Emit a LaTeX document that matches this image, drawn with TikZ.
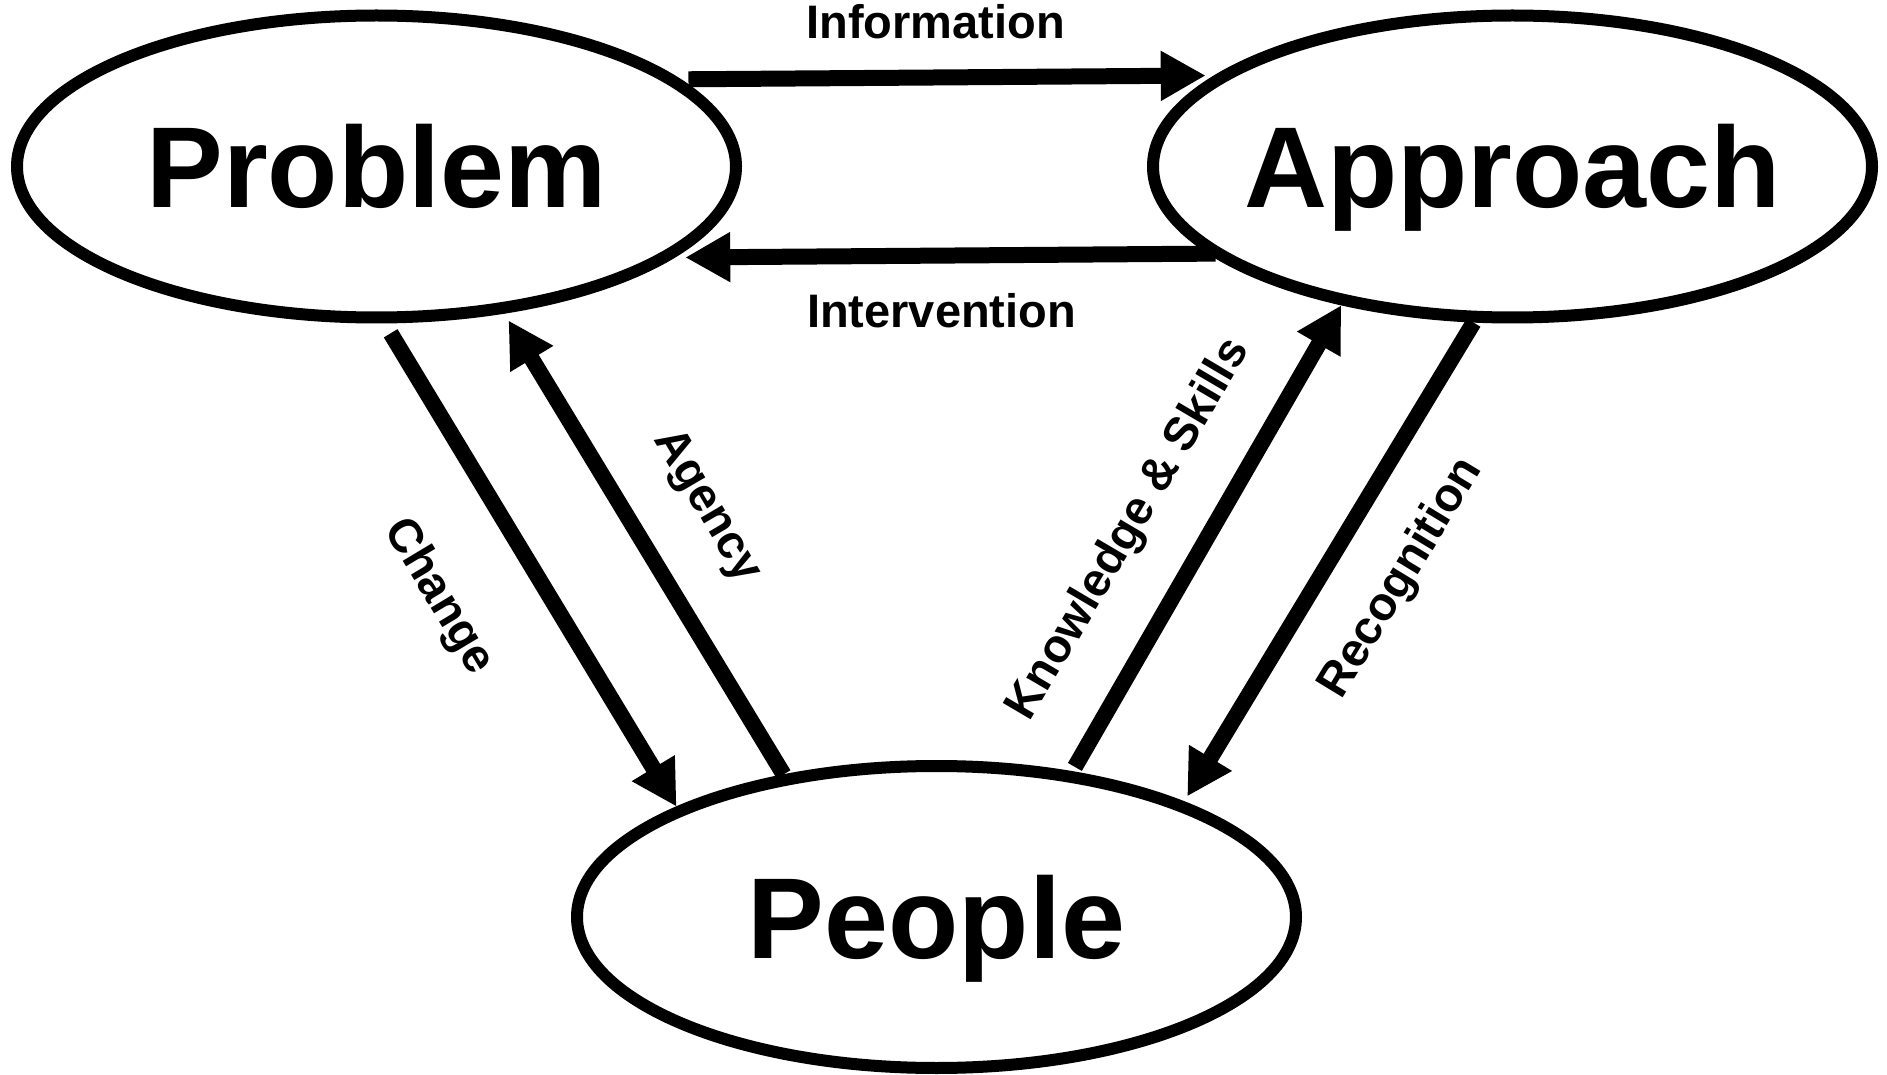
\documentclass[tikz,border=0pt]{standalone}
\usepackage{fontspec}
\setmainfont{Liberation Sans}
\usetikzlibrary{shapes.geometric, arrows.meta}

\tikzset{
  stage/.style = {ellipse, draw, line width = 6pt, inner sep = 0pt,
    minimum width = 359.5pt, minimum height = 151pt,
    font = \bfseries\fontsize{57.5}{60}\selectfont,
    text height = 41pt, text depth = 0pt},
  flow/.style = {line width = 8pt,
    -{Triangle[length = 22.5pt, width = 23.5pt]}},
  tag/.style = {font = \bfseries\fontsize{23.5}{26}\selectfont, inner sep = 0pt}
}

\begin{document}
\begin{tikzpicture}[x = 0.5pt, y = -0.5pt]
  \useasboundingbox (0, 0) rectangle (1887, 1075);

  \node[stage] (problem)  at (376.5, 166.5)  {\makebox[0pt]{Problem}};
  \node[stage] (approach) at (1512.5, 166.5) {\makebox[0pt]{Approach}};
  \node[stage] (people)   at (936.5, 917)    {\makebox[0pt]{People}};

  % top pair
  \draw[flow, shorten <= 4pt, shorten >= 4.5pt] (problem.16.2) -- (approach.163.8);
  \draw[flow, shorten <= -3.5pt, shorten >= 5.5pt] (approach.196.2) -- (problem.343.8);
  % left pair
  \draw[flow, shorten <= 5.75pt] (problem.273.1) -- (people.157.9);
  \draw[flow, shorten >= 4pt] (people.137.6) -- (problem.311.9);
  % right pair
  \draw[flow, shorten <= 2.5pt] (people.47.4) -- (approach.219.5);
  \draw[flow, shorten >= 3pt] (approach.256.5) -- (people.25.8);

  \node[tag, anchor = base] (info)   at (935.7, 39)    {Information};
  \node[tag, anchor = base] (interv) at (941.5, 327.3) {Intervention};
  \node[tag, rotate = -59]   (change) at (438.3, 596.7)  {Change};
  \node[tag, rotate = -59.5] (agency) at (706.7, 506.7)  {Agency};
  \node[tag, rotate = 59.5]  (skills) at (1129.3, 530)   {Knowledge \& Skills};
  \node[tag, rotate = 58.7]  (recog)  at (1401.7, 578.3) {Recognition};
\end{tikzpicture}
\end{document}
